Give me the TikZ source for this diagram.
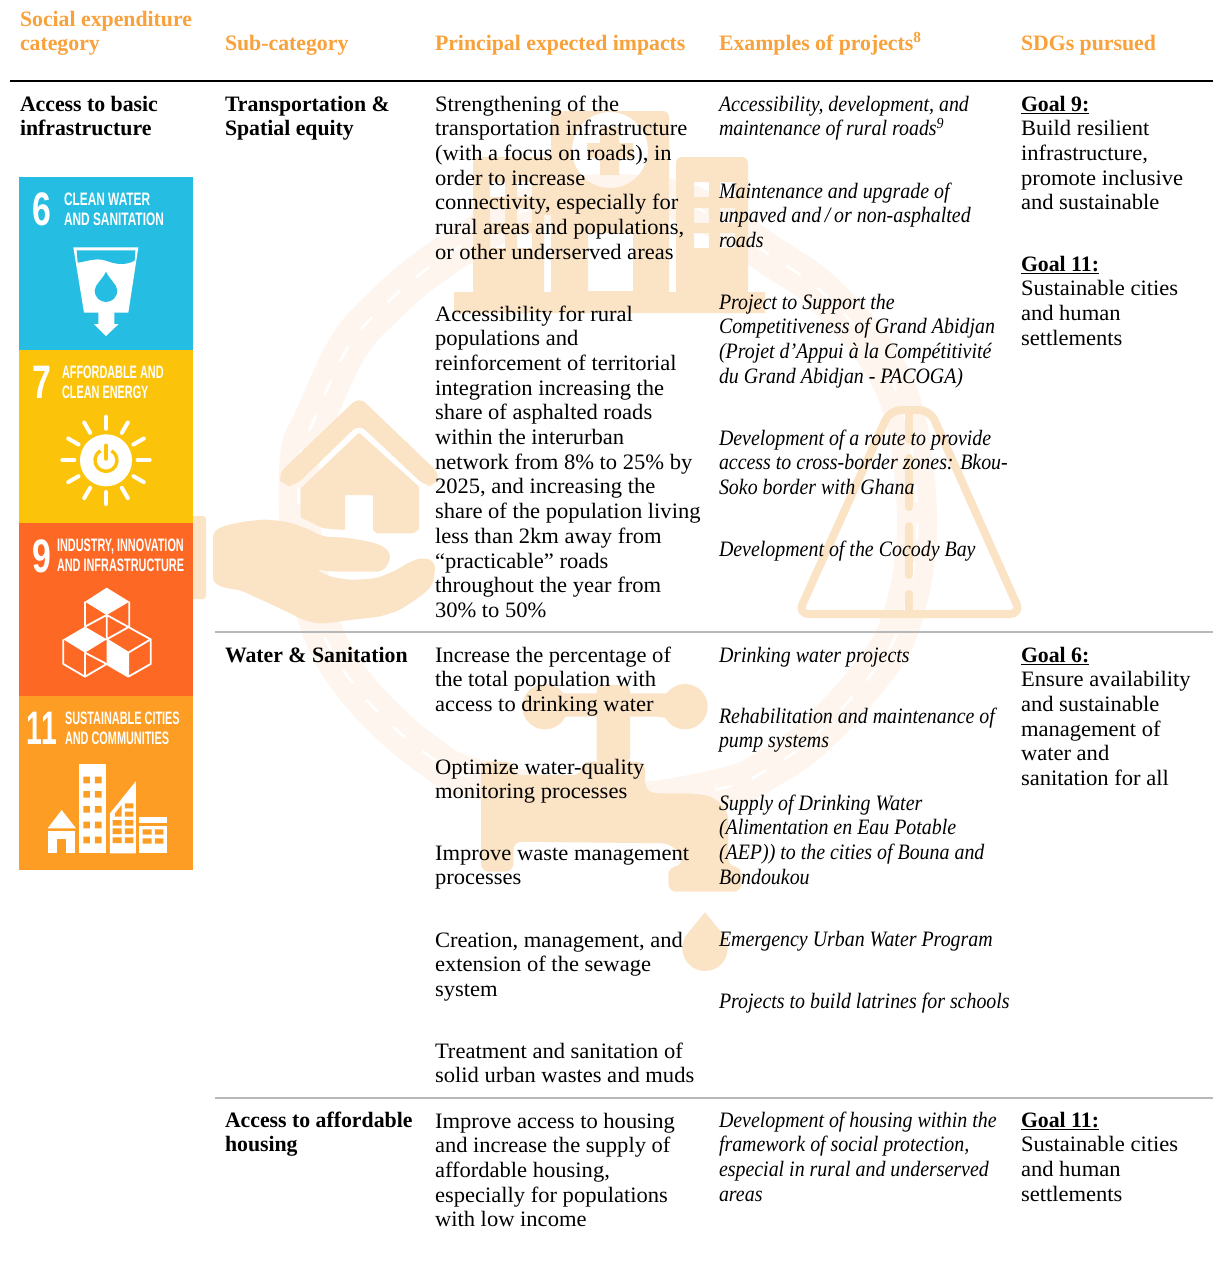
\documentclass[tikz,border=0pt]{standalone}
\usepackage{fontspec}
\setmainfont{Liberation Serif}[UprightFeatures={FakeStretch=1.025},ItalicFeatures={FakeStretch=0.905},BoldFeatures={FakeStretch=0.99}]
\newfontfamily\sdgfont[FakeStretch=0.66]{Liberation Sans}
\newfontfamily\sdgfontb[FakeStretch=0.605]{Liberation Sans}
\newfontfamily\sdgnum[FakeStretch=0.72]{Liberation Sans}
\definecolor{wm}{HTML}{FBE3C6}
\definecolor{wmring}{HTML}{FEF6EE}
\definecolor{hd}{HTML}{F9A13A}
\definecolor{sdgsix}{HTML}{26BDE2}
\definecolor{sdgseven}{HTML}{FCC30B}
\definecolor{sdgnine}{HTML}{FD6925}
\definecolor{sdgeleven}{HTML}{FD9D24}
\tikzset{
 cell/.style={inner sep=0pt,outer sep=0pt,align=left,anchor=north west,text=black,font=\fontsize{22}{24.7}\selectfont},
 bodytxt/.style={cell},
 ital/.style={cell,font=\fontsize{22}{24.7}\selectfont\itshape},
 strong/.style={cell,font=\fontsize{22}{24.7}\selectfont\bfseries},
 headtxt/.style={cell,text=hd,font=\fontsize{22}{24.7}\selectfont\bfseries},
 sdgtext/.style={inner sep=0pt,outer sep=0pt,align=left,anchor=north west,text=white,font=\sdgfont\fontsize{18}{20.7}\selectfont\bfseries},
 sdgtextb/.style={sdgtext,font=\sdgfontb\fontsize{18}{20.7}\selectfont\bfseries},
 sdgno/.style={inner sep=0pt,outer sep=0pt,anchor=base west,text=white,font=\sdgnum\fontsize{47}{47}\selectfont\bfseries},
 sdgnob/.style={sdgno,font=\sdgfontb\fontsize{47}{47}\selectfont\bfseries},
 wmshape/.style={fill=wm,draw=none},
 tile/.style={draw=none},
 ringpath/.style={smooth cycle,tension=0.6},
}
\newcommand{\tb}[5]{\node[#1] (#2) at (#3,#4-18) {\rule{0pt}{18pt}#5};}
\newcommand{\sdgt}[5]{\node[#1] (#2) at (#3,#4-14) {\rule{0pt}{14pt}#5};}
\newcommand{\ringpts}{(610,194) (690,205) (774,258) (820,290) (870,345) (900,400) (914,470) (916,550) (900,625) (873,672) (818,733) (773,766) (723,788) (610,803) (473,778) (428,755) (385,719) (348,677) (322,630) (306,565) (299,510) (301,450) (313,422) (348,347) (385,305) (428,268) (497,224) (550,202)}
\begin{document}
\begin{tikzpicture}[x=1pt,y=-1pt]
\useasboundingbox (0,0) rectangle (1218,1283);
\fill[white] (0,0) rectangle (1218,1283);
% ---------- watermark: road ring
\draw[wmring,line width=40] plot[ringpath] coordinates {\ringpts};
\draw[white,line width=2.6,dash pattern=on 17pt off 21pt] plot[ringpath] coordinates {\ringpts};
% hospital
\fill[wmshape,even odd rule,rounded corners=5]
 (454,292) [sharp corners] -- (473,292) [rounded corners=6] -- (473,157) -- (551,157) -- (551,111) -- (669,111) [sharp corners] -- (669,292) -- (676,292) [rounded corners=6] -- (676,157) -- (748,157) [sharp corners] -- (748,292) -- (765,292) -- (765,313) -- (454,313) -- cycle
 (610,150) circle (38)
 (588,233) rectangle (633,291)
 (490,182) rectangle (505,197) (517,182) rectangle (532,197)
 (490,208) rectangle (505,223) (517,208) rectangle (532,223)
 (490,233) rectangle (505,248) (517,233) rectangle (532,248)
 (694,182) rectangle (709,197) (720,182) rectangle (735,197)
 (694,208) rectangle (709,223) (720,208) rectangle (735,223)
 (694,233) rectangle (709,248) (720,233) rectangle (735,248)
 (544,215) rectangle (551,292);
\fill[wmshape] (600,127) rectangle (619,175) (587,143) rectangle (633,158);
% hand and house
\fill[wmshape,rounded corners=3] (180,516) -- (206,516) -- (206,599) -- (180,599) -- cycle;
\begin{scope}[x=0.33333pt,y=-0.33333pt,shift={(190pt,-400pt)}]
\fill[wmshape,rounded corners=6]
 (69,395) -- (100,378) -- (160,365) -- (225,358) -- (290,365) -- (350,385) -- (400,410) -- (470,413) -- (540,425) -- (585,440) -- (605,470) -- (580,515) -- (490,515) -- (430,515) -- (375,508) -- (420,530) -- (480,540) -- (560,535) -- (620,510) -- (660,485) -- (700,472) -- (735,485) -- (735,520) -- (725,560) -- (690,590) -- (630,630) -- (570,650) -- (480,660) -- (390,672) -- (340,660) -- (270,625) -- (150,570) -- (110,565) -- (69,550) -- cycle;
\fill[wmshape,rounded corners=9]
 (507,-10) -- (752,225) -- (735,258) -- (705,258) -- (507,72) -- (315,258) -- (280,258) -- (262,225) -- cycle;
\fill[wmshape,rounded corners=1]
 (507,98) -- (687,260) -- (687,388) -- (670,400) -- (560,400) -- (549,390) -- (549,285) -- (465,285) -- (465,390) -- (400,385) -- (332,352) -- (332,265) -- cycle;
\end{scope}
% road sign
\draw[wm,line width=8,rounded corners=11] (890,410) -- (930,410) -- (1021,614) -- (798,614) -- cycle;
\foreach \a/\b in {410/440,458/507,526/575,594/614}
 \draw[wm,line width=8,line cap=round] (909,\a) -- (909,\b);
% tap and drop
\begin{scope}[x=0.33333pt,y=-0.33333pt,shift={(450pt,-660pt)}]
\fill[wmshape] (285,140) circle (68) (705,140) circle (68);
\fill[wmshape] (285,100) -- (705,100) -- (705,180) -- (620,170) -- (285,170) -- cycle;
\fill[wmshape,rounded corners=6] (440,75) -- (540,75) -- (540,310) -- (440,310) -- cycle;
\fill[wmshape,rounded corners=8]
 (93,305) -- (190,305) -- (190,345) -- (395,345) -- (395,305) -- (585,305) -- (585,385) -- (600,400) -- (730,400) -- (790,410) -- (835,455) -- (835,620) -- (875,620) -- (875,695) -- (655,695) -- (655,620) -- (695,620) -- (695,590) -- (660,550) -- (190,545) -- (190,635) -- (93,635) -- cycle;
\fill[wmshape] (765,757) -- (825,830) -- (833,865) -- (697,865) -- (705,830) -- cycle;
\fill[wmshape] (765,865) circle (68);
\end{scope}
% ---------- SDG tiles
\fill[sdgsix,tile] (19,177) rectangle (193,350);
\fill[sdgseven,tile] (19,350) rectangle (193,523);
\fill[sdgnine,tile] (19,523) rectangle (193,696);
\fill[sdgeleven,tile] (19,696) rectangle (193,870);
\node[sdgno] (six) at (32,225) {6};
\sdgt{sdgtext}{sixt}{64}{205}{CLEAN WATER\\AND SANITATION}
\node[sdgno] (seven) at (32,398) {7};
\sdgt{sdgtextb}{sevent}{62}{378}{AFFORDABLE AND\\CLEAN ENERGY}
\node[sdgno] (nine) at (32,572) {9};
\sdgt{sdgtextb}{ninet}{57}{551}{INDUSTRY, INNOVATION\\AND INFRASTRUCTURE}
\node[sdgnob] (eleven) at (27,744) {11};
\sdgt{sdgtextb}{elevent}{65}{724}{SUSTAINABLE CITIES\\AND COMMUNITIES}
% glass icon
\begin{scope}[x=0.33333pt,y=-0.33333pt,shift={(0pt,-170pt)}]
\fill[white] (220,232) -- (415,232) -- (385,428) -- (343,428) -- (343,462) -- (356,462) -- (318,498) -- (282,462) -- (295,462) -- (295,428) -- (252,428) -- cycle;
\fill[sdgsix] (230,241) -- (406,241) -- (404,272) .. controls (370,290) and (340,280) .. (318,272) .. controls (285,262) and (260,275) .. (233,278) -- cycle;
\fill[sdgsix] (318,305) .. controls (330,330) and (352,345) .. (352,362) arc (0:180:34) .. controls (284,345) and (306,330) .. (318,305) -- cycle;
% sun
\fill[white] (318,871) circle (78);
\draw[sdgseven,line width=3.4pt] (318,871) ++(-60:33) arc (-60:240:33);
\draw[sdgseven,line width=4.2pt,line cap=round] (318,827) -- (318,866);
\foreach \k in {0,30,...,330}
 \draw[white,line width=4pt,line cap=round] (318,871) ++(\k:95) -- ++(\k:36);
\end{scope}
% cubes
\begin{scope}[x=0.33333pt,y=-0.33333pt,shift={(0pt,-520pt)},line join=round]
\fill[white] (320,203) -- (388,245) -- (320,285) -- (255,245) -- cycle;
\fill[white] (255,320) -- (320,358) -- (255,398) -- (190,358) -- cycle;
\fill[white] (320,358) -- (385,398) -- (385,470) -- (320,432) -- cycle;
\draw[white,line width=1.8pt]
 (255,245) -- (255,320) (388,245) -- (388,320) (320,285) -- (320,358)
 (320,285) -- (255,320) (320,285) -- (452,358) (320,358) -- (388,320)
 (190,358) -- (190,432) -- (255,470) -- (320,432) -- (385,470) -- (452,432) -- (452,358) -- (385,398) -- (320,358)
 (255,398) -- (255,470) (255,398) -- (320,432) (385,398) -- (385,470);
% city
\fill[white] (185,870) -- (228,925) -- (143,925) -- cycle;
\fill[white] (143,933) rectangle (225,1000);
\fill[sdgeleven] (170,958) rectangle (198,1000);
\fill[white] (238,733) rectangle (318,1000);
\foreach \r in {770,813,858,905,950}
 \fill[sdgeleven] (250,\r) rectangle (270,\r+20) (285,\r) rectangle (305,\r+20);
\fill[white] (330,880) -- (408,783) -- (408,1000) -- (330,1000) -- cycle;
\foreach \r in {900,925,952}
 \fill[sdgeleven] (338,\r) rectangle (365,\r+17) (375,\r) rectangle (400,\r+17);
\fill[sdgeleven] (375,850) rectangle (400,865) (375,875) rectangle (400,890);
\fill[sdgeleven] (345,880) -- (365,855) -- (365,890) -- (345,890) -- cycle;
\fill[white] (418,892) rectangle (500,910);
\fill[white] (418,917) rectangle (500,1000);
\foreach \r in {928,955}
 \fill[sdgeleven] (428,\r) rectangle (455,\r+16) (465,\r) rectangle (490,\r+16);
\end{scope}
% ---------- rules
\coordinate (topl) at (10,81); \coordinate (topr) at (1213,81);
\coordinate (wl) at (215,632); \coordinate (wr) at (1213,632);
\coordinate (hl) at (215,1098); \coordinate (hr) at (1213,1098);
\draw[black,line width=1.6] (topl) -- (topr);
\draw[black!28,line width=1.6] (wl) -- (wr);
\draw[black!28,line width=1.6] (hl) -- (hr);
% ---------- headers
\tb{headtxt}{h1}{20}{26}{Social expenditure\\category}
\tb{headtxt}{h2}{225}{50}{Sub-category}
\tb{headtxt}{h3}{435}{50}{Principal expected impacts}
\tb{headtxt}{h4}{719}{50}{Examples of projects\textsuperscript{8}}
\tb{headtxt}{h5}{1021}{50}{SDGs pursued}
% ---------- column 1, 2
\tb{strong}{c1}{20}{111}{Access to basic\\infrastructure}
\tb{strong}{c2a}{225}{111}{Transportation \&\\Spatial equity}
\tb{strong}{c2b}{225}{662}{Water \& Sanitation}
\tb{strong}{c2c}{225}{1127}{Access to affordable\\housing}
% ---------- column 3
\tb{bodytxt}{i1}{435}{111}{Strengthening of the\\transportation infrastructure\\(with a focus on roads), in\\order to increase\\connectivity, especially for\\rural areas and populations,\\or other underserved areas}
\tb{bodytxt}{i2}{435}{321}{Accessibility for rural\\populations and\\reinforcement of territorial\\integration increasing the\\share of asphalted roads\\within the interurban\\network from 8\% to 25\% by\\2025, and increasing the\\share of the population living\\less than 2km away from\\“practicable” roads\\throughout the year from\\30\% to 50\%}
\tb{bodytxt}{i3}{435}{662}{Increase the percentage of\\the total population with\\access to drinking water}
\tb{bodytxt}{i4}{435}{774}{Optimize water-quality\\monitoring processes}
\tb{bodytxt}{i5}{435}{860}{Improve waste management\\processes}
\tb{bodytxt}{i6}{435}{947}{Creation, management, and\\extension of the sewage\\system}
\tb{bodytxt}{i7}{435}{1058}{Treatment and sanitation of\\solid urban wastes and muds}
\tb{bodytxt}{i8}{435}{1128}{Improve access to housing\\and increase the supply of\\affordable housing,\\especially for populations\\with low income}
% ---------- column 4
\tb{ital}{e1}{719}{111}{Accessibility, development, and\\maintenance of rural roads\textsuperscript{9}}
\tb{ital}{e2}{719}{198}{Maintenance and upgrade of\\unpaved and\,/\,or non-asphalted\\roads}
\tb{ital}{e3}{719}{309}{Project to Support the\\Competitiveness of Grand Abidjan\\(Projet d’Appui à la Compétitivité\\du Grand Abidjan - PACOGA)}
\tb{ital}{e4}{719}{445}{Development of a route to provide\\access to cross-border zones: Bkou-\\Soko border with Ghana}
\tb{ital}{e5}{719}{556}{Development of the Cocody Bay}
\tb{ital}{e6}{719}{662}{Drinking water projects}
\tb{ital}{e7}{719}{723}{Rehabilitation and maintenance of\\pump systems}
\tb{ital}{e8}{719}{810}{Supply of Drinking Water\\(Alimentation en Eau Potable\\(AEP)) to the cities of Bouna and\\Bondoukou}
\tb{ital}{e9}{719}{946}{Emergency Urban Water Program}
\tb{ital}{e10}{719}{1008}{Projects to build latrines for schools}
\tb{ital}{e11}{719}{1127}{Development of housing within the\\framework of social protection,\\especial in rural and underserved\\areas}
% ---------- column 5
\tb{bodytxt}{g1}{1021}{111}{\textbf{\underline{Goal 9:}}\\Build resilient\\infrastructure,\\promote inclusive\\and sustainable}
\tb{bodytxt}{g2}{1021}{271}{\textbf{\underline{Goal 11:}}\\Sustainable cities\\and human\\settlements}
\tb{bodytxt}{g3}{1021}{662}{\textbf{\underline{Goal 6:}}\\Ensure availability\\and sustainable\\management of\\water and\\sanitation for all}
\tb{bodytxt}{g4}{1021}{1127}{\textbf{\underline{Goal 11:}}\\Sustainable cities\\and human\\settlements}
\end{tikzpicture}
\end{document}
